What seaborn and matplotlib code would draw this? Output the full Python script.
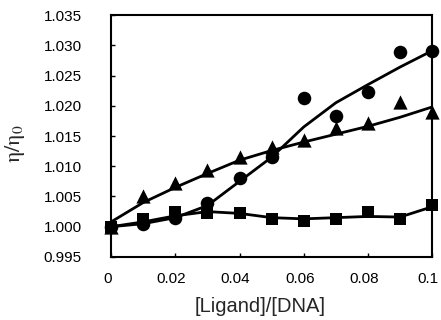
import numpy as np
import pandas as pd
import seaborn as sns
import matplotlib.pyplot as plt
import matplotlib.transforms as mtransforms

# --- data ---
ratio = [0.0, 0.01, 0.02, 0.03, 0.04, 0.05, 0.06, 0.07, 0.08, 0.09, 0.1]

circle_pts = [1.0000, 1.0005, 1.0015, 1.0040, 1.0080, 1.0116, 1.0213, 1.0183, 1.0223, 1.0289, 1.0291]
triangle_pts = [1.0000, 1.0050, 1.0073, 1.0094, 1.0116, 1.0132, 1.0144, 1.0164, 1.0171, 1.0207, 1.0190]
square_pts = [1.0000, 1.0013, 1.0025, 1.0023, 1.0023, 1.0013, 1.0010, 1.0013, 1.0025, 1.0013, 1.0036]

circle_fit = [1.0000, 1.0005, 1.0015, 1.0035, 1.0075, 1.0115, 1.0165, 1.0205, 1.0235, 1.0264, 1.0291]
triangle_fit = [1.0008, 1.0040, 1.0065, 1.0088, 1.0110, 1.0126, 1.0140, 1.0153, 1.0166, 1.0181, 1.0198]
square_fit = [1.0000, 1.0008, 1.0018, 1.0025, 1.0022, 1.0015, 1.0013, 1.0015, 1.0017, 1.0016, 1.0033]

x_ticks = [0, 0.02, 0.04, 0.06, 0.08, 0.1]
x_labels = ["0", "0.02", "0.04", "0.06", "0.08", "0.1"]
y_ticks = [0.995, 1.000, 1.005, 1.010, 1.015, 1.020, 1.025, 1.030, 1.035]

sns.set_theme(style="white")
plt.rcParams['font.family'] = ['Liberation Sans', 'DejaVu Sans']
plt.rcParams['mathtext.fontset'] = 'stix'

fig = plt.figure(figsize=(4.41, 3.2), dpi=100)
ax = fig.add_axes([0.252, 0.197, 0.728, 0.756])

series = [
    (circle_pts, circle_fit, "o", 95),
    (triangle_pts, triangle_fit, "^", 105),
    (square_pts, square_fit, "s", 85),
]
for pts, fit, mk, size in series:
    sns.lineplot(x=ratio, y=fit, ax=ax, color="black", linewidth=2)
    sns.scatterplot(x=ratio, y=pts, ax=ax, marker=mk, s=size, color="black",
                    edgecolor="black", linewidth=0, zorder=3, clip_on=False)

ax.set_xlim(0, 0.1)
ax.set_ylim(0.995, 1.035)
ax.set_xticks(x_ticks)
ax.set_xticklabels(x_labels)
ax.set_yticks(y_ticks)
ax.set_yticklabels([f"{v:.3f}" for v in y_ticks])
ax.tick_params(axis="both", direction="in", length=3, width=1, labelsize=11,
               colors="black")
ax.tick_params(axis="y", pad=21)
ax.tick_params(axis="x", pad=11)
ax.xaxis.set_ticks_position("bottom")
ax.yaxis.set_ticks_position("left")

# x tick labels sit a little left of their ticks in the original
shift = mtransforms.ScaledTranslation(-4 / 100, 0, fig.dpi_scale_trans)
for lbl in ax.get_xticklabels():
    lbl.set_transform(lbl.get_transform() + shift)

for sp in ax.spines.values():
    sp.set_color("black")
    sp.set_linewidth(1.5)

ax.set_xlabel("[Ligand]/[DNA]", fontsize=14.5)
ax.xaxis.set_label_coords(0.464, -0.165)
ax.set_ylabel(r"$\mathrm{\eta/\eta_0}$", fontsize=16)
ax.yaxis.set_label_coords(-0.262, 0.467)

fig.savefig("out.png", dpi=100)
